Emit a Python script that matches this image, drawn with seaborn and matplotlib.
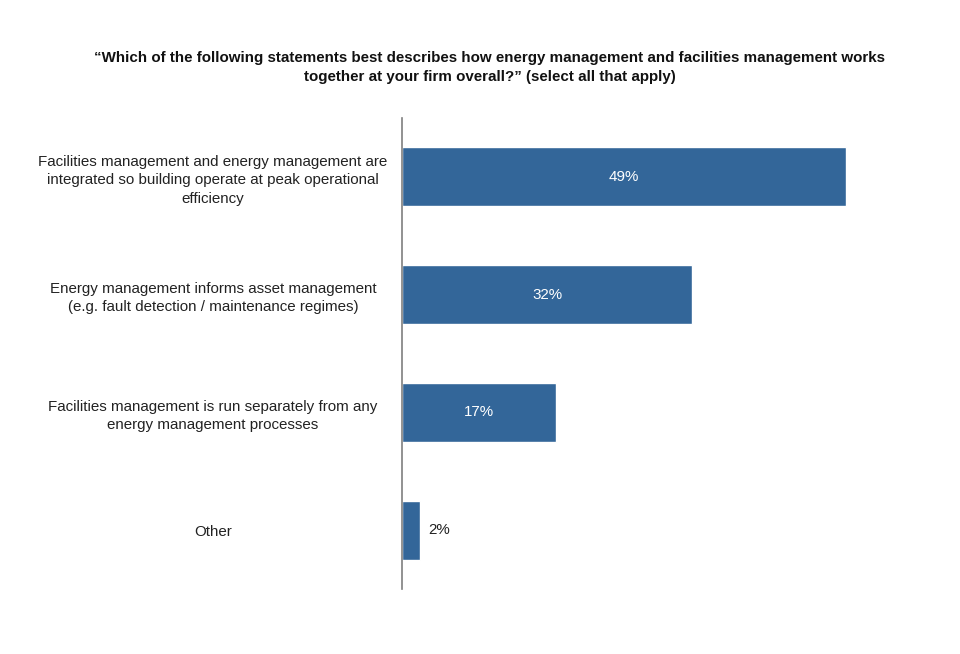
import seaborn as sns
import matplotlib.pyplot as plt
import pandas as pd

# Données
statements = [
    "Facilities management and energy management are\nintegrated so building operate at peak operational\nefficiency",
    "Energy management informs asset management\n(e.g. fault detection / maintenance regimes)",
    "Facilities management is run separately from any\nenergy management processes",
    "Other",
]
shares = [49, 32, 17, 2]
title = ("\u201cWhich of the following statements best describes how energy management and facilities management works\n"
         "together at your firm overall?\u201d (select all that apply)")

sns.set_style("white")
plt.rcParams['font.family'] = ['Liberation Sans', 'DejaVu Sans']

df = pd.DataFrame({"statement": statements, "share": shares})

fig = plt.figure(figsize=(9.6, 6.54), dpi=100)
ax = fig.add_axes([402 / 960, 1 - 589 / 654, 0.95 - 402 / 960, (589 - 118) / 654])

sns.barplot(data=df, x="share", y="statement", color="#336699", width=0.5,
            saturation=1, ax=ax, orient="h")

ax.set_xlim(0, (0.95 * 960 - 402) / 9.06)
ax.set_ylim(3.5, -0.5)
ax.set_xlabel("")
ax.set_ylabel("")
ax.set_xticks([])

for side in ["top", "right", "bottom"]:
    ax.spines[side].set_visible(False)
ax.spines["left"].set_color("#7f7f7f")
ax.spines["left"].set_linewidth(1.2)

ax.tick_params(axis="y", length=0, pad=136, labelsize=10.9, labelcolor="#222222")
for lbl in ax.get_yticklabels():
    lbl.set_ha("center")
    lbl.set_multialignment("center")
    lbl.set_linespacing(1.38)

# Valeurs sur les barres
for i, v in enumerate(shares):
    if v >= 10:
        ax.text(v / 2, i, f"{v}%", ha="center", va="center", color="white", fontsize=10.9)
    else:
        ax.text(v + 0.9, i, f"{v}%", ha="left", va="center", color="#222222", fontsize=10.9)

fig.text(490 / 960, 1 - 67.5 / 654, title, ha="center", va="center", fontsize=10.9,
         fontweight="bold", color="#111111", linespacing=1.38)

plt.savefig("out.png", dpi=100)
plt.close()
